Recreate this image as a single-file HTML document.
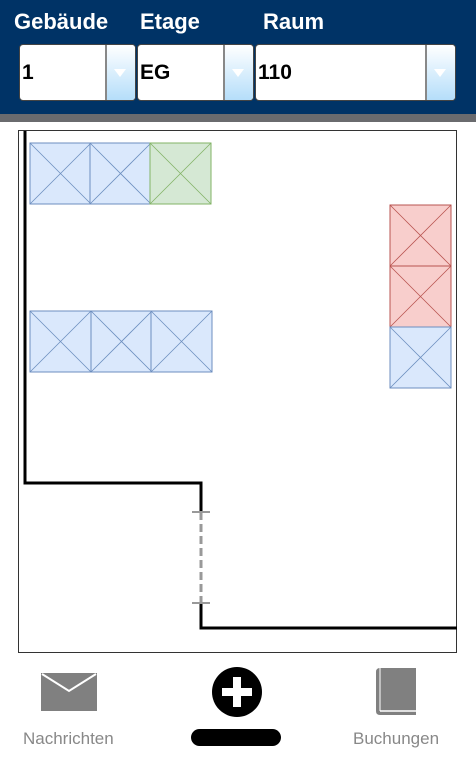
<!DOCTYPE html>
<html><head><meta charset="utf-8">
<style>
body{margin:0;width:476px;height:761px;overflow:hidden;background:#fff;font-family:"Liberation Sans",sans-serif;position:relative}
.hdr{position:absolute;left:0;top:0;width:476px;height:114px;background:#003366}
.bar{position:absolute;left:0;top:114px;width:476px;height:8px;background:#6a6b6e}
.lbl{position:absolute;top:9px;color:#fff;font-weight:bold;font-size:22px}
.sel{position:absolute;top:44px;height:57px;background:#fff;border-radius:4px;border:1px solid #444;box-sizing:border-box;overflow:hidden}
.sel .v{position:absolute;left:2px;top:16px;font-size:21px;font-weight:bold;color:#000}
.sel .a{position:absolute;right:0;top:0;width:28px;height:100%;border-left:2px solid #888;background:linear-gradient(#fff,#b5defa)}
.sel .a:after{content:"";position:absolute;left:7px;top:24px;border-left:6px solid transparent;border-right:6px solid transparent;border-top:8px solid #fff}
.nav{position:absolute;font-size:17px;color:#888}
</style></head><body>
<div class="hdr"></div>
<div class="bar"></div>
<div class="lbl" style="left:14px">Gebäude</div>
<div class="lbl" style="left:140px">Etage</div>
<div class="lbl" style="left:263px">Raum</div>
<div class="sel" style="left:19px;width:117px"><span class="v">1</span><span class="a"></span></div>
<div class="sel" style="left:137px;width:117px"><span class="v">EG</span><span class="a"></span></div>
<div class="sel" style="left:255px;width:201px"><span class="v">110</span><span class="a"></span></div>

<svg id="map" style="position:absolute;left:0;top:0" width="476" height="761">
<rect x="18.5" y="130.5" width="438" height="522" fill="#fff" stroke="#333" stroke-width="1"/>
<polyline points="25,131 25,483 201,483 201,512" fill="none" stroke="#000" stroke-width="3"/>
<polyline points="201,603 201,628 457,628" fill="none" stroke="#000" stroke-width="3"/>
<line x1="201" y1="512" x2="201" y2="603" stroke="#999" stroke-width="3" stroke-dasharray="8,4"/>
<line x1="192" y1="512" x2="210" y2="512" stroke="#999" stroke-width="2"/>
<line x1="192" y1="603" x2="210" y2="603" stroke="#999" stroke-width="2"/>
<g id="desks"></g>
</svg>

<svg style="position:absolute;left:41px;top:673px" width="57" height="38">
<rect x="0" y="0" width="56" height="38" fill="#808080"/>
<polyline points="1,1 28,18 55,1" fill="none" stroke="#fff" stroke-width="2"/>
</svg>
<div class="nav" style="left:23px;top:729px">Nachrichten</div>
<svg style="position:absolute;left:211px;top:666px" width="52" height="52">
<circle cx="26" cy="26" r="25" fill="#000"/>
<rect x="22" y="11" width="8" height="30" fill="#fff"/><rect x="11" y="22" width="30" height="8" fill="#fff"/>
</svg>
<div style="position:absolute;left:191px;top:729px;width:90px;height:17px;background:#000;border-radius:9px"></div>
<svg style="position:absolute;left:376px;top:668px" width="40" height="48">
<path d="M4,0 H40 V47 H4 Q0,47 0,43 V4 Q0,0 4,0Z" fill="#808080"/>
<line x1="4" y1="43" x2="40" y2="43" stroke="#fff" stroke-width="1.5"/>
<line x1="4" y1="0" x2="4" y2="43" stroke="#fff" stroke-width="1"/>
</svg>
<div class="nav" style="left:353px;top:729px">Buchungen</div>

<script>
const deskX = [30, 90, 150, 30, 91, 151, 390, 390, 390];
const deskY = [143, 143, 143, 311, 311, 311, 205, 266, 327];
const deskStatus = ["free","free","mine","free","free","free","booked","booked","free"];
const colors = {free:["#dae8fc","#6c8ebf"], mine:["#d5e8d4","#82b366"], booked:["#f8cecc","#b85450"]};
const size = 61;
const g = document.getElementById('desks');
const ns = 'http://www.w3.org/2000/svg';
deskX.forEach((x, i) => {
  const y = deskY[i], c = colors[deskStatus[i]];
  const grp = document.createElementNS(ns, 'g');
  
  
  const r = document.createElementNS(ns, 'rect');
  r.setAttribute('x', x); r.setAttribute('y', y); r.setAttribute('width', size); r.setAttribute('height', size);
  r.setAttribute('fill', c[0]); r.setAttribute('stroke', c[1]);
  grp.appendChild(r);
  [[x, y, x+size, y+size], [x+size, y, x, y+size]].forEach(p => {
    const l = document.createElementNS(ns, 'line');
    l.setAttribute('x1', p[0]); l.setAttribute('y1', p[1]); l.setAttribute('x2', p[2]); l.setAttribute('y2', p[3]);
    l.setAttribute('stroke', c[1]); l.setAttribute('stroke-width', '0.8');
    grp.appendChild(l);
  });
  g.appendChild(grp);
});
</script>
</body></html>
